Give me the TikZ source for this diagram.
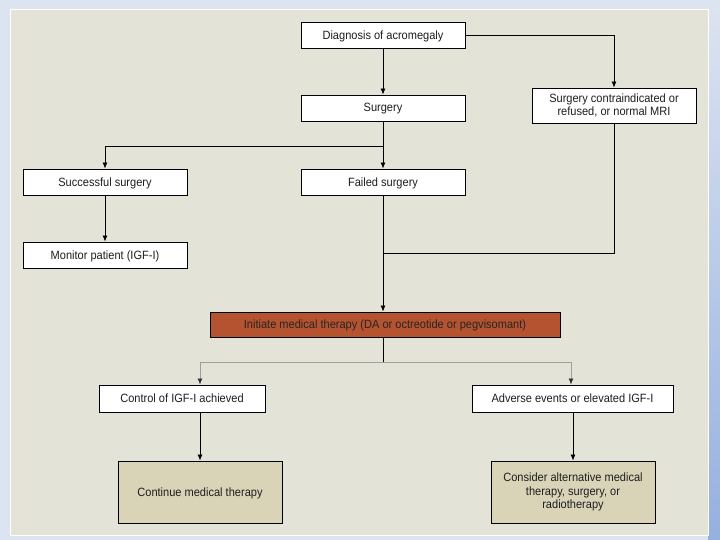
\documentclass[tikz,border=0pt]{standalone}
\usepackage{fontspec}
\setmainfont[FakeStretch=0.92]{Liberation Sans}
\usetikzlibrary{arrows.meta}
\definecolor{pagebg}{RGB}{221,228,241}
\definecolor{stripbot}{RGB}{150,176,222}
\definecolor{panel}{RGB}{227,227,215}
\definecolor{tan}{RGB}{217,211,184}
\definecolor{rust}{RGB}{181,82,48}
\definecolor{txt}{RGB}{30,30,30}
\tikzset{
  box/.style={draw=black, line width=0.9pt, fill=white, text=txt, font=\fontsize{12}{13.8}\selectfont, align=center, inner sep=0pt, minimum width=164pt, minimum height=26pt, text depth=0.5pt},
  multi/.style={text depth=},
  endbox/.style={box, fill=tan, minimum height=62pt},
  conn/.style={draw=black, line width=0.8pt},
  arr/.style={conn, -{Latex[length=6pt,width=5pt]}},
  grayconn/.style={draw=gray!75, line width=0.8pt},
  grayarr/.style={grayconn, -{Latex[length=6pt,width=5pt,color=black!80]}}
}
\begin{document}
\begin{tikzpicture}[x=1pt,y=-1pt]
\useasboundingbox (0,0) rectangle (720,540);
\fill[pagebg] (0,0) rectangle (720,540);
\shade[top color=pagebg, bottom color=stripbot] (708,0) rectangle (720,540);
\fill[panel, draw=white, line width=1pt] (10,10) rectangle (708,535);

\node[box] (diag) at (383,35.5) {Diagnosis of acromegaly};
\node[box] (surg) at (383,108) {Surgery};
\node[box, multi, minimum height=35pt] (contra) at (614,105.5) {Surgery contraindicated or\\refused, or normal MRI};
\node[box] (succ) at (105,182) {Successful surgery};
\node[box] (fail) at (383,182) {Failed surgery};
\node[box] (mon) at (105,255) {Monitor patient (IGF-I)};
\node[box, fill=rust, text={black!85}, minimum width=350pt, minimum height=25pt] (init) at (385,324.5) {Initiate medical therapy (DA or octreotide or pegvisomant)};
\node[box, minimum width=166pt, minimum height=27pt] (ctrl) at (182,398.5) {Control of IGF-I achieved};
\node[box, minimum width=201pt, minimum height=27pt] (adv) at (572.5,398.5) {Adverse events or elevated IGF-I};
\node[endbox] (cont) at (200,492) {Continue medical therapy};
\node[endbox, multi] (cons) at (573,492) {Consider alternative medical\\therapy, surgery, or\\radiotherapy};

\coordinate (dr) at (614,35.5);
\coordinate (split1) at (383,146);
\coordinate (split1l) at (105,146);
\coordinate (join) at (383,253);
\coordinate (cj) at (614,253);
\coordinate (split2) at (383,362);
\coordinate (s2l) at (200,362);
\coordinate (s2r) at (571,362);

\draw[arr] (diag.south) -- (surg.north);
\draw[arr] (diag.east) -- (dr) -- (contra.north);
\draw[conn] (surg.south) -- (split1);
\draw[arr] (split1) -- (fail.north);
\draw[arr] (split1) -- (split1l) -- (succ.north);
\draw[arr] (succ.south) -- (mon.north);
\draw[arr] (fail.south) -- (fail.south |- init.north);
\draw[conn] (contra.south) -- (cj) -- (join);
\draw[conn] (init.south -| split2) -- (split2);
\draw[grayconn] (s2l) -- (s2r);
\draw[grayarr] (s2l) -- (s2l |- ctrl.north);
\draw[grayarr] (s2r) -- (s2r |- adv.north);
\draw[arr] (cont.north |- ctrl.south) -- (cont.north);
\draw[arr] (cons.north |- adv.south) -- (cons.north);
\end{tikzpicture}
\end{document}
